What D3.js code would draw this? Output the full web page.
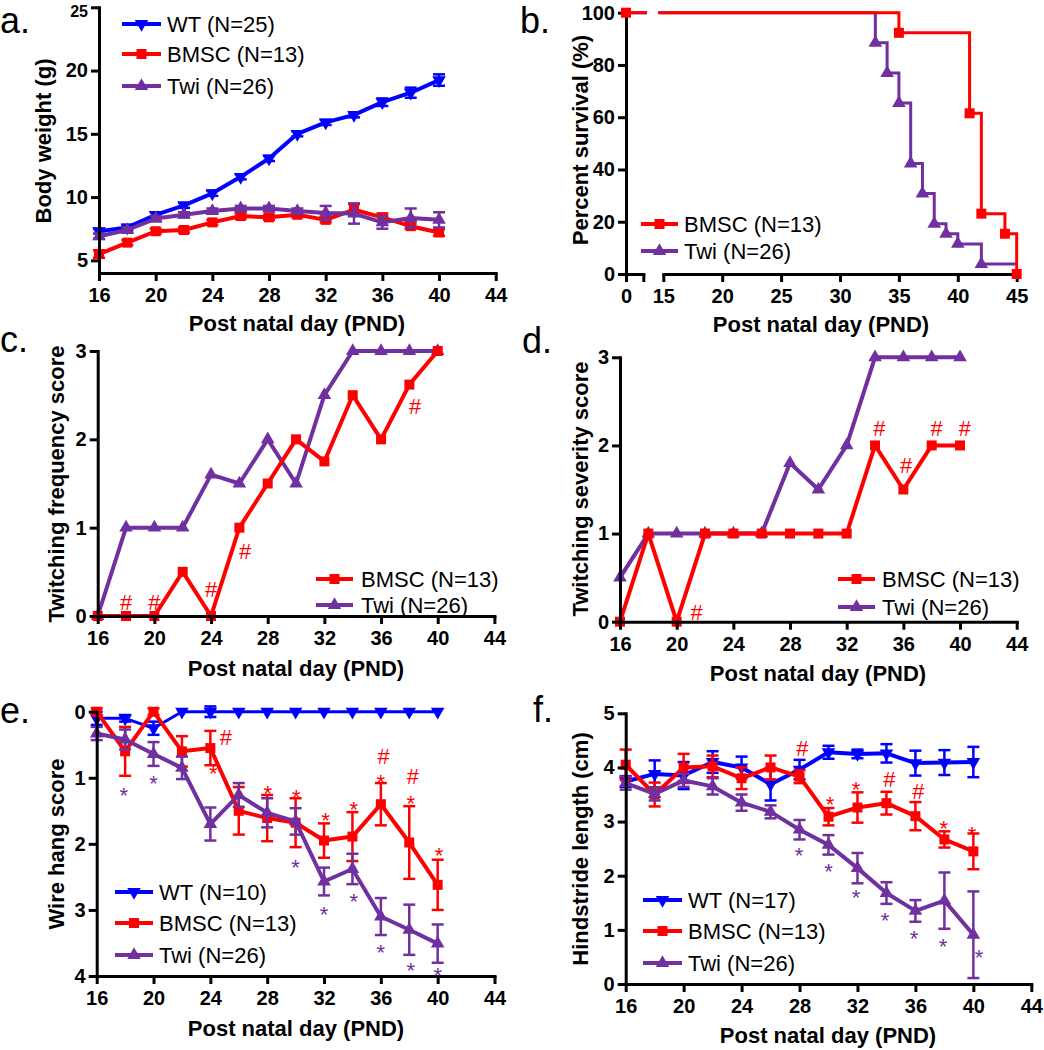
<!DOCTYPE html>
<html><head><meta charset="utf-8">
<script src="https://cdn.jsdelivr.net/npm/d3@7"></script>
<style>body{margin:0;background:#fff}</style>
</head><body>
<svg id="chart" width="1044" height="1050"></svg>
<script>
// ---------------- DATA ----------------
const days = [16,18,20,22,24,26,28,30,32,34,36,38,40];
const dayTicks = [16,20,24,28,32,36,40,44];
const xTitle = "Post natal day (PND)";

// a. body weight
const aWT      = [7.3,7.6,8.6,9.35,10.3,11.6,13.05,15.0,15.9,16.5,17.5,18.25,19.25];
const aWTErr   = [0.2,0.2,0.2,0.2,0.2,0.2,0.2,0.2,0.2,0.2,0.3,0.4,0.45];
const aBMSC    = [5.5,6.4,7.3,7.4,8.0,8.5,8.4,8.6,8.2,9.0,8.4,7.7,7.2];
const aBMSCErr = [0.3,0.2,0.2,0.2,0.2,0.2,0.2,0.2,0.2,0.45,0.3,0.2,0.25];
const aTwi     = [6.9,7.4,8.3,8.6,8.9,9.1,9.1,8.9,8.75,8.7,8.0,8.35,8.2];
const aTwiErr  = [0.2,0.2,0.2,0.2,0.2,0.2,0.2,0.2,0.55,0.8,0.5,0.75,0.6];
const aYTicks  = [5,10,15,20,25];
const aLegend  = ["WT (N=25)","BMSC (N=13)","Twi (N=26)"];

// b. survival (step points: day, percent)
const bBMSCDays = [0,35,41,42,44,45];
const bBMSCPct  = [100,92.3,61.5,23.1,15.4,0];
const bTwiDays  = [0,33,34,35,36,37,38,39,40,42,45];
const bTwiPct   = [100,88.5,76.9,65.4,42.3,30.8,19.2,15.4,11.5,3.8,3.8];
const bXTicks   = [15,20,25,30,35,40,45];
const bYTicks   = [0,20,40,60,80,100];
const bLegend   = ["BMSC (N=13)","Twi (N=26)"];

// c. twitching frequency
const cBMSC = [0,0,0,0.5,0,1,1.5,2,1.75,2.5,2,2.62,3];
const cTwi  = [0,1,1,1,1.6,1.5,2,1.5,2.5,3,3,3,3];
const cHash = [[18,0.16],[20,0.16],[24,0.3],[26.4,0.73],[38.4,2.38]];

// d. twitching severity
const dBMSC = [0,1,0,1,1,1,1,1,1,2,1.5,2,2];
const dTwi  = [0.5,1,1,1,1,1,1.8,1.5,2,3,3,3,3];
const dHash = [[21.4,0.11],[34.3,2.2],[36.2,1.78],[38.35,2.2],[40.35,2.2]];
const scoreTicks = [0,1,2,3];

// e. wire hang
const eWT      = [0.1,0.1,0.25,0,0,0,0,0,0,0,0,0,0];
const eWTErr   = [0.1,0.05,0.1,0,0.08,0,0,0,0,0,0,0,0];
const eBMSC    = [0,0.6,0,0.6,0.55,1.5,1.61,1.68,1.95,1.89,1.4,1.98,2.62];
const eBMSCErr = [0.05,0.37,0.05,0.23,0.26,0.36,0.35,0.37,0.26,0.37,0.32,0.55,0.38];
const eTwi     = [0.33,0.42,0.64,0.85,1.7,1.26,1.53,1.66,2.57,2.38,3.1,3.3,3.51];
const eTwiErr  = [0.1,0.15,0.18,0.17,0.25,0.18,0.22,0.2,0.21,0.23,0.28,0.38,0.29];
const eTwiStar  = [[17.9,1.17],[20,1.0],[30,2.27],[32,2.97],[34.1,2.78],[36,3.55],[38.1,3.83],[40,3.9]];
const eBMSCStar = [[24.2,0.84],[28.05,1.15],[30.05,1.21],[32.1,1.56],[34.1,1.39],[36,0.98],[38.1,1.3],[40.1,2.09]];
const eBMSCHash = [[25.1,0.38],[36.2,0.67],[38.25,0.98]];
const eYTicks = [0,1,2,3,4];
const eLegend = ["WT (N=10)","BMSC (N=13)","Twi (N=26)"];

// f. hindstride length
const fWT      = [3.74,3.88,3.85,4.1,4.0,3.69,3.96,4.28,4.25,4.26,4.08,4.09,4.1];
const fWTErr   = [0.1,0.25,0.25,0.2,0.2,0.3,0.18,0.12,0.08,0.17,0.23,0.23,0.28];
const fBMSC    = [4.05,3.5,4.0,4.02,3.8,4.0,3.83,3.09,3.26,3.34,3.1,2.67,2.45];
const fBMSCErr = [0.28,0.22,0.25,0.2,0.2,0.22,0.12,0.16,0.28,0.21,0.26,0.15,0.33];
const fTwi     = [3.71,3.51,3.76,3.65,3.35,3.18,2.85,2.57,2.14,1.68,1.35,1.54,0.91];
const fTwiErr  = [0.12,0.12,0.12,0.15,0.15,0.12,0.18,0.18,0.28,0.2,0.2,0.52,0.8];
const fTwiStar  = [[27.97,2.48],[30,2.19],[31.9,1.71],[33.9,1.28],[35.9,0.96],[37.9,0.81],[40.4,0.6]];
const fBMSCStar = [[30.1,3.43],[31.9,3.71],[37.95,2.98],[39.9,2.88]];
const fBMSCHash = [[28.2,4.36],[34.2,3.79],[36.2,3.57]];
const fYTicks = [0,1,2,3,4,5];
const fLegend = ["WT (N=17)","BMSC (N=13)","Twi (N=26)"];

// ---------------- DRAWING ----------------
const FONT = "'Liberation Sans', Arial, Helvetica, sans-serif";
const COL = {WT:'#0000ff', BMSC:'#ff0000', Twi:'#7030a0'};
const MK  = {WT:'down', BMSC:'square', Twi:'up'};
const INT = d3.format('d');
const svg = d3.select('#chart').style('font-family', FONT);

function marker(g, type, cx, cy, color, s) {
  const p = type === 'square' ? d3.symbol(d3.symbolSquare, s || 100)()
                              : d3.symbol(d3.symbolTriangle, s || 80)();
  g.append('path').attr('d', p).attr('fill', color)
    .attr('transform', `translate(${cx},${cy})` + (type === 'down' ? ' rotate(180)' : ''));
}

function styleAxis(sel) {
  sel.select('.domain').attr('stroke', '#000').attr('stroke-width', 3).attr('stroke-linecap', 'square');
  sel.selectAll('.tick line').attr('stroke', '#000').attr('stroke-width', 3);
  sel.selectAll('.tick text').attr('fill', '#000').style('font-size', '20px').style('font-weight', 'bold').style('font-family', FONT);
}

function xAxis(g, x, ticks, yPos, fmt) {
  const a = d3.axisBottom(x).tickValues(ticks).tickSize(8).tickSizeOuter(0).tickPadding(7)
    .tickFormat(fmt || INT);
  g.append('g').attr('transform', `translate(0,${yPos})`).call(a).call(styleAxis);
}
function yAxis(g, y, ticks, xPos) {
  return g.append('g').attr('transform', `translate(${xPos},0)`)
    .call(d3.axisLeft(y).tickValues(ticks).tickSize(8).tickSizeOuter(0).tickPadding(3).tickFormat(INT))
    .call(styleAxis);
}
function titles(g, xMid, xBase, yTitle, yx, yMid) {
  g.append('text').attr('x', xMid).attr('y', xBase).attr('text-anchor', 'middle')
    .style('font-size', '22px').style('font-weight', 'bold').text(xTitle);
  g.append('text').attr('transform', `translate(${yx},${yMid}) rotate(-90)`)
    .attr('text-anchor', 'middle').attr('dominant-baseline', 'central')
    .style('font-size', '22px').style('font-weight', 'bold').text(yTitle);
}
function letter(g, t, x, y) {
  g.append('text').attr('x', x).attr('y', y).style('font-size', '36px').text(t);
}
function series(g, x, y, vals, errs, key, lw) {
  const pts = days.map((d, i) => [d, vals[i]]);
  if (errs) {
    const eg = g.append('g').attr('stroke', COL[key]).attr('stroke-width', 2.5);
    days.forEach((d, i) => {
      if (!errs[i]) return;
      const cx = x(d), y1 = y(vals[i] - errs[i]), y2 = y(vals[i] + errs[i]);
      eg.append('line').attr('x1', cx).attr('x2', cx).attr('y1', y1).attr('y2', y2);
      eg.append('line').attr('x1', cx - 6).attr('x2', cx + 6).attr('y1', y1).attr('y2', y1);
      eg.append('line').attr('x1', cx - 6).attr('x2', cx + 6).attr('y1', y2).attr('y2', y2);
    });
  }
  g.append('path').datum(pts).attr('fill', 'none').attr('stroke', COL[key])
    .attr('stroke-width', lw || 4).attr('stroke-linejoin', 'round')
    .attr('d', d3.line().x(p => x(p[0])).y(p => y(p[1])));
  pts.forEach(p => marker(g, MK[key], x(p[0]), y(p[1]), COL[key]));
}
function legend(g, keys, labels, x0, x1, tx, rows) {
  keys.forEach((k, i) => {
    g.append('line').attr('x1', x0).attr('x2', x1).attr('y1', rows[i]).attr('y2', rows[i])
      .attr('stroke', COL[k]).attr('stroke-width', 4);
    marker(g, MK[k], (x0 + x1) / 2, rows[i], COL[k]);
    g.append('text').attr('x', tx).attr('y', rows[i]).attr('dy', '0.36em')
      .style('font-size', '22px').text(labels[i]);
  });
}
function annot(g, x, y, pts, sym, color) {
  pts.forEach(([d, v]) => g.append('text').attr('x', x(d)).attr('y', y(v))
    .attr('dy', sym === '*' ? '0.62em' : '0.36em').attr('text-anchor', 'middle')
    .attr('fill', color).style('font-size', '22px').text(sym));
}

// ---- Panel a
{
  const g = svg.append('g');
  const x = d3.scaleLinear().domain([16, 44]).range([99, 495.7]);
  const y = d3.scaleLinear().domain([4, 25]).range([273, 7.3]);
  series(g, x, y, aWT, aWTErr, 'WT');
  series(g, x, y, aBMSC, aBMSCErr, 'BMSC');
  series(g, x, y, aTwi, aTwiErr, 'Twi');
  xAxis(g, x, dayTicks, 273);
  const ya = yAxis(g, y, aYTicks, 99);
  // top label sits at the image edge in the original: drawn a bit smaller and lower
  ya.selectAll('.tick text').filter(d => d === 25).style('font-size', '16px').attr('dy', '0.6em');
  titles(g, 297, 331, "Body weight (g)", 43, 141);
  legend(g, ['WT','BMSC','Twi'], aLegend, 122, 161, 167, [24, 54, 86]);
  letter(g, 'a.', 0, 33);
}

// ---- Panel b (broken x axis)
{
  const g = svg.append('g');
  const x = d3.scaleLinear().domain([0, 1.5, 15, 45]).range([626, 643.3, 663.3, 1016.7]);
  const y = d3.scaleLinear().domain([0, 100]).range([274, 12.7]);
  const defs = svg.append('defs');
  const cp = defs.append('clipPath').attr('id', 'bclip');
  cp.append('rect').attr('x', x(0) - 12).attr('y', 0).attr('width', 33).attr('height', 300);
  cp.append('rect').attr('x', x(15) - 5).attr('y', 0).attr('width', x(45) - x(15) + 20).attr('height', 300);
  const step = d3.line().curve(d3.curveStepAfter).x(p => x(p[0])).y(p => y(p[1]));
  const tw = bTwiDays.map((d, i) => [d, bTwiPct[i]]);
  const bm = bBMSCDays.map((d, i) => [d, bBMSCPct[i]]);
  const lg = g.append('g').attr('clip-path', 'url(#bclip)');
  lg.append('path').datum(tw).attr('fill', 'none').attr('stroke', COL.Twi).attr('stroke-width', 3).attr('d', step);
  tw.slice(1, -1).forEach(p => marker(g, 'up', x(p[0]), y(p[1]), COL.Twi));
  lg.append('path').datum(bm).attr('fill', 'none').attr('stroke', COL.BMSC).attr('stroke-width', 3).attr('d', step);
  xAxis(g, d3.scaleLinear().domain([0, 1.5]).range([x(0), x(1.5)]), [0, 1.5], 274, d => d === 0 ? '0' : '');
  xAxis(g, d3.scaleLinear().domain([15, 45]).range([x(15), x(45)]), bXTicks, 274);
  yAxis(g, y, bYTicks, 626);
  bm.forEach(p => marker(g, 'square', x(p[0]), y(p[1]), COL.BMSC));
  titles(g, 821, 332, "Percent survival (%)", 580, 140);
  legend(g, ['BMSC','Twi'], bLegend, 641, 678, 684, [224, 251]);
  letter(g, 'b.', 520, 33);
}

// ---- Panel c
{
  const g = svg.append('g');
  const x = d3.scaleLinear().domain([16, 44]).range([97.7, 494.4]);
  const y = d3.scaleLinear().domain([0, 3]).range([616, 351]);
  series(g, x, y, cTwi, null, 'Twi');
  series(g, x, y, cBMSC, null, 'BMSC');
  xAxis(g, x, dayTicks, 616);
  yAxis(g, y, scoreTicks, 97.7);
  annot(g, x, y, cHash, '#', COL.BMSC);
  titles(g, 296, 676, "Twitching frequency score", 56, 484);
  legend(g, ['BMSC','Twi'], bLegend, 316, 353, 361, [579, 605]);
  letter(g, 'c.', 0, 352);
}

// ---- Panel d
{
  const g = svg.append('g');
  const x = d3.scaleLinear().domain([16, 44]).range([620, 1016.7]);
  const y = d3.scaleLinear().domain([0, 3]).range([621.7, 357.3]);
  series(g, x, y, dTwi, null, 'Twi');
  series(g, x, y, dBMSC, null, 'BMSC');
  xAxis(g, x, dayTicks, 621.7);
  yAxis(g, y, scoreTicks, 620);
  annot(g, x, y, dHash, '#', COL.BMSC);
  titles(g, 818, 681, "Twitching severity score", 580, 489);
  legend(g, ['BMSC','Twi'], bLegend, 838, 875, 882, [579, 607]);
  letter(g, 'd.', 522, 353);
}

// ---- Panel e
{
  const g = svg.append('g');
  const x = d3.scaleLinear().domain([16, 44]).range([96.7, 494.5]);
  const y = d3.scaleLinear().domain([0, 4]).range([711.7, 976]);
  series(g, x, y, eWT, eWTErr, 'WT', 3);
  series(g, x, y, eBMSC, eBMSCErr, 'BMSC');
  series(g, x, y, eTwi, eTwiErr, 'Twi');
  xAxis(g, x, dayTicks, 976);
  yAxis(g, y, eYTicks, 96.7);
  annot(g, x, y, eTwiStar, '*', COL.Twi);
  annot(g, x, y, eBMSCStar, '*', COL.BMSC);
  annot(g, x, y, eBMSCHash, '#', COL.BMSC);
  titles(g, 296, 1036, "Wire hang score", 56, 844);
  legend(g, ['WT','BMSC','Twi'], eLegend, 115, 153, 159, [892, 923, 955]);
  letter(g, 'e.', 0, 723);
}

// ---- Panel f
{
  const g = svg.append('g');
  const x = d3.scaleLinear().domain([16, 44]).range([625.7, 1031.3]);
  const y = d3.scaleLinear().domain([0, 5]).range([984, 713.3]);
  series(g, x, y, fWT, fWTErr, 'WT');
  series(g, x, y, fBMSC, fBMSCErr, 'BMSC');
  series(g, x, y, fTwi, fTwiErr, 'Twi');
  xAxis(g, x, dayTicks, 984);
  yAxis(g, y, fYTicks, 625.7);
  annot(g, x, y, fTwiStar, '*', COL.Twi);
  annot(g, x, y, fBMSCStar, '*', COL.BMSC);
  annot(g, x, y, fBMSCHash, '#', COL.BMSC);
  titles(g, 828, 1043, "Hindstride length (cm)", 580, 849);
  legend(g, ['WT','BMSC','Twi'], fLegend, 643, 682, 688, [900, 931, 963]);
  letter(g, 'f.', 533, 722);
}
</script>
</body></html>
